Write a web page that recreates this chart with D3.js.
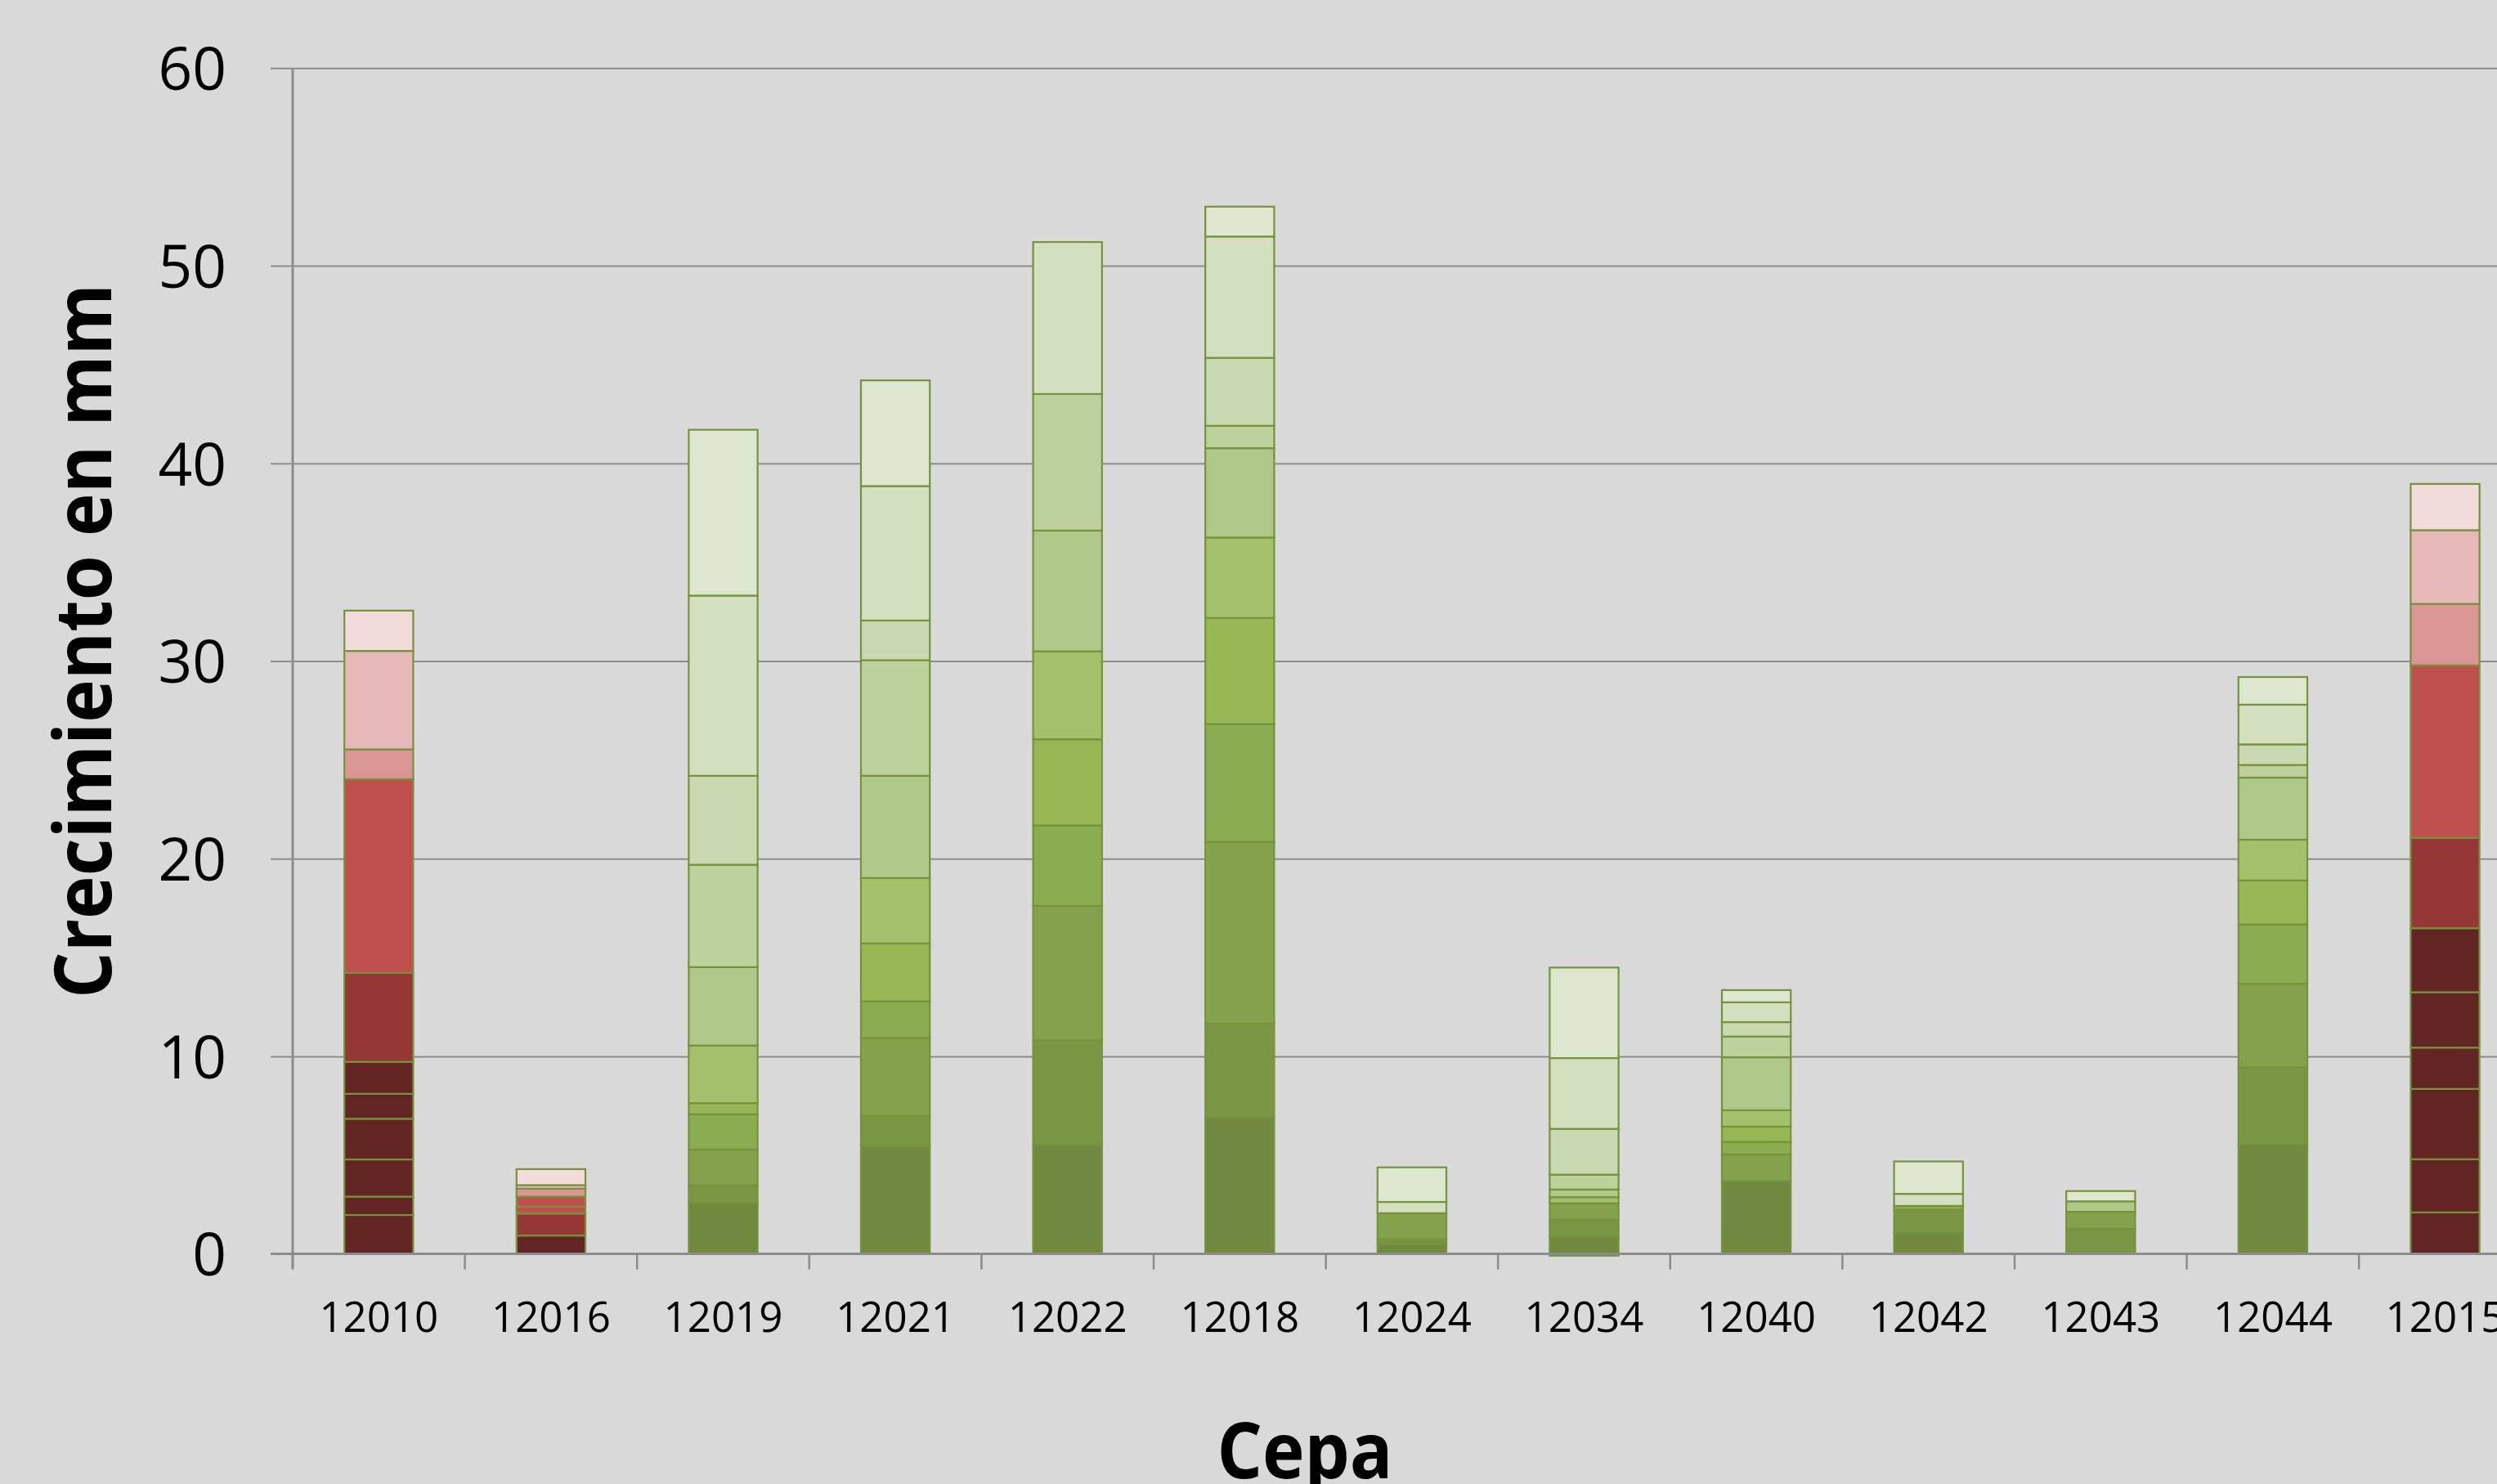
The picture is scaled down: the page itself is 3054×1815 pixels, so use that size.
<!DOCTYPE html>
<html>
<head>
<meta charset="utf-8">
<script src="https://cdn.jsdelivr.net/npm/d3@7"></script>
<style>
  html, body { margin: 0; padding: 0; background: #D9D9D9; overflow: hidden; }
  svg { display: block; }
</style>
</head>
<body>
<svg id="chart" width="3054" height="1815"></svg>
<script>
// ---------- DATA ----------
const categories = ["12010","12016","12019","12021","12022","12018","12024","12034","12040","12042","12043","12044","12015"];
const redCategories = ["12010","12016","12015"];

// stacked increments (bottom -> top), one array per series, one value per category
const s0  = [1.97, 0.93, 2.57, 5.47, 5.51, 6.91, 0.49, 0.84, 3.68, 1.07, 0.00, 5.54, 2.10];
const s1  = [0.93, 0.00, 0.89, 1.51, 5.30, 4.74, 0.25, 0.89, 0.00, 1.16, 1.27, 3.89, 2.69];
const s2  = [1.88, 0.00, 1.82, 3.95, 6.80, 9.19, 1.32, 0.83, 1.35, 0.00, 0.86, 4.24, 3.56];
const s3  = [2.06, 0.00, 1.79, 1.85, 4.07, 5.97, 0.00, 0.00, 0.64, 0.20, 0.00, 3.00, 2.09];
const s4  = [1.26, 0.00, 0.56, 2.93, 4.36, 5.37, 0.00, -0.09, 0.77, 0.00, 0.00, 2.23, 2.80];
const s5  = [1.62, 0.00, 2.91, 3.31, 4.45, 4.07, 0.00, 0.31, 0.83, 0.00, 0.00, 2.06, 3.24];
const s6  = [4.50, 1.11, 3.97, 5.17, 6.11, 4.52, 0.00, 0.39, 2.68, 0.00, 0.53, 3.14, 4.57];
const s7  = [9.80, 0.35, 5.18, 5.85, 6.91, 1.13, 0.00, 0.75, 1.05, 0.00, 0.00, 0.64, 8.73];
const s8  = [0.00, 0.51, 0.00, 0.00, 0.00, 0.00, 0.00, 0.00, 0.00, 0.00, 0.00, 0.00, 0.00];
const s9  = [1.51, 0.40, 4.50, 2.01, 0.00, 3.44, 0.00, 2.32, 0.73, 0.00, 0.00, 1.04, 3.11];
const s10 = [4.98, 0.18, 9.12, 6.80, 7.69, 6.14, 0.57, 3.58, 1.00, 0.61, 0.00, 2.01, 3.73];
const s11 = [2.04, 0.81, 8.39, 5.35, 0.00, 1.51, 1.75, 4.58, 0.62, 1.64, 0.52, 1.40, 2.34];

const seriesValues = [s0, s1, s2, s3, s4, s5, s6, s7, s8, s9, s10, s11];
const seriesKeys = seriesValues.map((_, i) => "s" + i);

const yTicks = [0, 10, 20, 30, 40, 50, 60];
const yTitle = "Crecimiento en mm";
const xTitle = "Cepa";

// ---------- STYLE ----------
const greenShades = ["#71893F","#7A9644","#84A24B","#8CAC51","#97B755","#A3C16B","#AFC88A","#BDD19C","#BDD19C","#C8D8B0","#D2E0C0","#DDE7D0"];
const redShades   = ["#632523","#632523","#632523","#632523","#632523","#632523","#953735","#C0504D","#C0504D","#D99694","#E6B9B8","#F2DCDB"];

// ---------- BUILD ----------
const W = 3054, H = 1815;
const svg = d3.select("#chart");
svg.append("rect").attr("width", W).attr("height", H).attr("fill", "#D9D9D9");

const table = categories.map((c, ci) => {
  const row = { cat: c };
  seriesKeys.forEach((k, si) => row[k] = seriesValues[si][ci]);
  return row;
});

const axisX0 = 358;
const step = 210.6;
const x = d3.scaleBand()
  .domain(categories)
  .range([axisX0, axisX0 + step * categories.length])
  .paddingInner(0.6)
  .paddingOuter(0.3);

const y = d3.scaleLinear().domain([0, 60]).range([1533.6, 83.3]);

// gridlines + y tick labels
const gy = svg.append("g").attr("transform", "translate(331,0)")
  .call(d3.axisLeft(y).tickValues(yTicks).tickSize(-(W - 331)).tickPadding(54));
gy.select(".domain").remove();
gy.selectAll(".tick line").attr("stroke", "#8C8C8C").attr("stroke-width", 2);
gy.selectAll(".tick text")
  .attr("font-family", "'Open Sans', 'Noto Sans', sans-serif")
  .attr("font-size", 73)
  .attr("fill", "#000")
  .attr("dy", "0.36em");

// stacked bars
const stack = d3.stack().keys(seriesKeys).offset(d3.stackOffsetDiverging);
const stacked = stack(table);

const barsG = svg.append("g");
stacked.forEach((layer, si) => {
  barsG.selectAll(null)
    .data(layer.filter(d => d[1] !== d[0]))
    .join("rect")
    .attr("x", d => x(d.data.cat))
    .attr("width", x.bandwidth())
    .attr("y", d => y(Math.max(d[0], d[1])))
    .attr("height", d => Math.abs(y(d[0]) - y(d[1])))
    .attr("fill", d => (redCategories.includes(d.data.cat) ? redShades : greenShades)[si])
    .attr("stroke", "#76923C")
    .attr("stroke-width", 2.2);
});

// x axis baseline
svg.append("line")
  .attr("x1", 331).attr("x2", W)
  .attr("y1", y(0)).attr("y2", y(0))
  .attr("stroke", "#8C8C8C").attr("stroke-width", 3);

// y axis line
svg.append("line")
  .attr("x1", axisX0).attr("x2", axisX0)
  .attr("y1", y(60)).attr("y2", y(0) + 18)
  .attr("stroke", "#8C8C8C").attr("stroke-width", 3);

// category boundary ticks
d3.range(categories.length + 1).forEach(i => {
  svg.append("line")
    .attr("x1", axisX0 + i * x.step()).attr("x2", axisX0 + i * x.step())
    .attr("y1", y(0)).attr("y2", y(0) + 19)
    .attr("stroke", "#8C8C8C").attr("stroke-width", 2.5);
});

// x labels
const gx = svg.append("g").attr("transform", `translate(0,${y(0)})`)
  .call(d3.axisBottom(x).tickSize(0).tickPadding(0));
gx.select(".domain").remove();
gx.selectAll(".tick text")
  .attr("font-family", "'Open Sans', 'Noto Sans', sans-serif")
  .attr("font-size", 51)
  .attr("fill", "#000")
  .attr("dy", null)
  .attr("y", 95.4);

// titles
svg.append("text")
  .attr("transform", "translate(136,784) rotate(-90)")
  .attr("text-anchor", "middle")
  .attr("font-family", "'Open Sans', 'Noto Sans', sans-serif")
  .attr("font-weight", "bold")
  .attr("font-size", 96)
  .attr("textLength", 874)
  .attr("lengthAdjust", "spacingAndGlyphs")
  .attr("fill", "#000")
  .text(yTitle);

svg.append("text")
  .attr("x", 1596).attr("y", 1808)
  .attr("text-anchor", "middle")
  .attr("font-family", "'Open Sans', 'Noto Sans', sans-serif")
  .attr("font-weight", "bold")
  .attr("font-size", 95)
  .attr("textLength", 215)
  .attr("lengthAdjust", "spacingAndGlyphs")
  .attr("fill", "#000")
  .text(xTitle);
</script>
</body>
</html>
